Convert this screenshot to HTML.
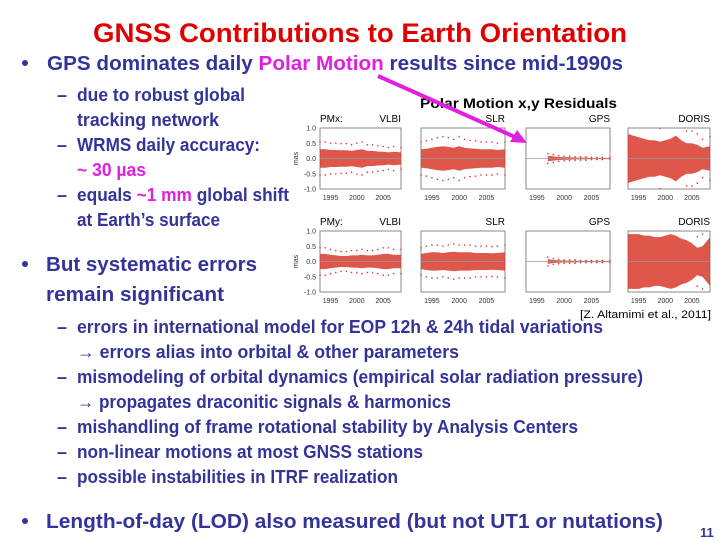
<!DOCTYPE html>
<html><head><meta charset="utf-8"><style>
html,body{margin:0;padding:0;background:#fff;}
svg{display:block;font-family:"Liberation Sans",sans-serif;}
.b{font-weight:bold;fill:#33339a;}
.m{fill:#e020e0;}
</style></head><body>
<svg id="slide" width="720" height="540" viewBox="0 0 720 540">
<text x="93" y="42" font-size="27" font-weight="bold" fill="#e00000" textLength="534" lengthAdjust="spacingAndGlyphs">GNSS Contributions to Earth Orientation</text>
<g class="b" font-size="20">
<circle cx="25" cy="63" r="3" fill="#33339a"/>
<text x="47" y="70" textLength="576" lengthAdjust="spacingAndGlyphs">GPS dominates daily <tspan class="m">Polar Motion</tspan> results since mid-1990s</text>
</g>
<g class="b" font-size="18">
<text x="57" y="101">–</text><text x="77" y="101" textLength="168" lengthAdjust="spacingAndGlyphs">due to robust global</text>
<text x="77" y="126" textLength="142" lengthAdjust="spacingAndGlyphs">tracking network</text>
<text x="57" y="151">–</text><text x="77" y="151" textLength="183" lengthAdjust="spacingAndGlyphs">WRMS daily accuracy:</text>
<text x="77" y="176" class="m" textLength="69" lengthAdjust="spacingAndGlyphs">~ 30 µas</text>
<text x="57" y="201">–</text><text x="77" y="201" textLength="212" lengthAdjust="spacingAndGlyphs">equals <tspan class="m">~1 mm</tspan> global shift</text>
<text x="77" y="226" textLength="143" lengthAdjust="spacingAndGlyphs">at Earth’s surface</text>
</g>
<g class="b" font-size="20">
<circle cx="25" cy="264" r="3" fill="#33339a"/>
<text x="46" y="271" textLength="211" lengthAdjust="spacingAndGlyphs">But systematic errors</text>
<text x="46" y="301" textLength="178" lengthAdjust="spacingAndGlyphs">remain significant</text>
</g>
<text x="580" y="318" font-size="11" fill="#000" textLength="131" lengthAdjust="spacingAndGlyphs">[Z. Altamimi et al., 2011]</text>
<g class="b" font-size="18">
<text x="57" y="333">–</text><text x="77" y="333" textLength="526" lengthAdjust="spacingAndGlyphs">errors in international model for EOP 12h &amp; 24h tidal variations</text>
<text x="77" y="358" textLength="382" lengthAdjust="spacingAndGlyphs">→ errors alias into orbital &amp; other parameters</text>
<text x="57" y="383">–</text><text x="77" y="383" textLength="566" lengthAdjust="spacingAndGlyphs">mismodeling of orbital dynamics (empirical solar radiation pressure)</text>
<text x="77" y="408" textLength="374" lengthAdjust="spacingAndGlyphs">→ propagates draconitic signals &amp; harmonics</text>
<text x="57" y="433">–</text><text x="77" y="433" textLength="501" lengthAdjust="spacingAndGlyphs">mishandling of frame rotational stability by Analysis Centers</text>
<text x="57" y="458">–</text><text x="77" y="458" textLength="346" lengthAdjust="spacingAndGlyphs">non-linear motions at most GNSS stations</text>
<text x="57" y="483">–</text><text x="77" y="483" textLength="321" lengthAdjust="spacingAndGlyphs">possible instabilities in ITRF realization</text>
</g>
<g class="b" font-size="20">
<circle cx="25" cy="521" r="3" fill="#33339a"/>
<text x="46" y="528" textLength="617" lengthAdjust="spacingAndGlyphs">Length-of-day (LOD) also measured (but not UT1 or nutations)</text>
</g>
<text x="700" y="537" font-size="13" font-weight="bold" fill="#33339a">11</text>
<text x="420" y="108" font-size="14" font-weight="bold" fill="#000" textLength="197" lengthAdjust="spacingAndGlyphs">Polar Motion x,y Residuals</text>
<g id="chart"></g>
<g>
<line x1="378" y1="76" x2="515" y2="137" stroke="#e020e0" stroke-width="4"/>
<polygon points="527,143 510,142 517,130" fill="#e020e0"/>
</g>
</svg>
<script>
const years=[1993,1994,1995,1996,1997,1998,1999,2000,2001,2002,2003,2004,2005,2006,2007,2008.4];
const techniques=["VLBI","SLR","GPS","DORIS"];
const rowLabels=["PMx:","PMy:"];
const yTicks=[1.0,0.5,0.0,-0.5,-1.0];
const xTicks=[1995,2000,2005];
// scatter half-width (mas) per year, per row/technique; null = no data
const ampPMxVLBI=[0.3,0.3,0.28,0.28,0.27,0.27,0.25,0.28,0.3,0.25,0.25,0.23,0.22,0.2,0.22,0.2];
const ampPMxSLR=[0.3,0.32,0.35,0.38,0.4,0.38,0.35,0.4,0.35,0.33,0.32,0.3,0.3,0.3,0.28,0.3];
const ampPMxGPS=[null,null,null,null,0.09,0.07,0.05,0.04,0.04,0.03,0.03,0.03,0.02,0.02,0.02,0.02];
const ampPMxDORIS=[0.8,0.75,0.7,0.65,0.6,0.6,0.55,0.6,0.65,0.75,0.6,0.5,0.5,0.45,0.35,0.4];
const ampPMyVLBI=[0.25,0.25,0.22,0.2,0.18,0.18,0.2,0.2,0.22,0.2,0.2,0.22,0.25,0.25,0.22,0.22];
const ampPMySLR=[0.25,0.28,0.3,0.3,0.28,0.3,0.32,0.3,0.3,0.3,0.28,0.28,0.28,0.27,0.28,0.3];
const ampPMyGPS=[null,null,null,null,0.08,0.05,0.04,0.03,0.03,0.03,0.02,0.02,0.02,0.02,0.02,0.02];
const ampPMyDORIS=[0.9,0.9,0.9,0.85,0.85,0.8,0.8,0.85,0.9,0.85,0.75,0.7,0.6,0.45,0.5,0.8];
const amps=[[ampPMxVLBI,ampPMxSLR,ampPMxGPS,ampPMxDORIS],[ampPMyVLBI,ampPMySLR,ampPMyGPS,ampPMyDORIS]];
const NS="http://www.w3.org/2000/svg";
const chart=document.getElementById("chart");
const panelX=[[320,401],[421,505],[526,610],[628,710]];
const panelY=[[128,189],[231,292]];
function mk(tag,attrs,parent){const e=document.createElementNS(NS,tag);for(const k in attrs)e.setAttribute(k,attrs[k]);parent.appendChild(e);return e;}
for(let r=0;r<2;r++){
  const [y0,y1]=panelY[r];
  const ys=v=>y0+(1-v)/2*(y1-y0);
  const lab=mk("text",{x:320,y:y0-6,"font-size":10,fill:"#000"},chart);
  lab.textContent=rowLabels[r];
  
  
  const mas=mk("text",{x:0,y:0,"font-size":7,fill:"#333",transform:`translate(298,${(y0+y1)/2}) rotate(-90)`,"text-anchor":"middle"},chart);
  mas.textContent="mas";
  
  
  yTicks.forEach(t=>{const tt=mk("text",{x:316,y:ys(t)+2.5,"font-size":7,fill:"#333","text-anchor":"end"},chart);tt.textContent=t.toFixed(1);
    
    });
  for(let c=0;c<4;c++){
    const [x0,x1]=panelX[c];
    const xs=yr=>x0+(yr-1993)/(2008.4-1993)*(x1-x0);
    const g=mk("g",{},chart);
    
    
    mk("rect",{x:x0,y:y0,width:x1-x0,height:y1-y0,fill:"#fff",stroke:"#888","stroke-width":1},g);
    const a=amps[r][c];const top=[],bot=[];
    years.forEach((yr,i)=>{if(a[i]!==null){top.push(xs(yr).toFixed(1)+","+ys(Math.min(a[i],1)).toFixed(1));bot.unshift(xs(yr).toFixed(1)+","+ys(-Math.min(a[i],1)).toFixed(1));}});
    const band=mk("polygon",{points:top.concat(bot).join(" "),fill:"#d93a2a","fill-opacity":0.85},g);
    
    
    years.forEach((yr,i)=>{if(a[i]!==null&&a[i]<0.6){[1.8,-1.8].forEach(k=>{const v=a[i]*k;if(Math.abs(v)<1)mk("circle",{cx:xs(yr),cy:ys(v),r:0.8,fill:"#d93a2a"},g);});}});
    mk("line",{x1:x0,x2:x1,y1:ys(0),y2:ys(0),stroke:"#999","stroke-width":0.8},g);
    const tl=mk("text",{x:x1,y:y0-6,"font-size":10,fill:"#000","text-anchor":"end"},chart);
    tl.textContent=techniques[c];
    
    
    xTicks.forEach(t=>{const xt=mk("text",{x:xs(t),y:y1+11,"font-size":7,fill:"#333","text-anchor":"middle"},chart);xt.textContent=t;
      
      });
  }
}
</script>
</body></html>
